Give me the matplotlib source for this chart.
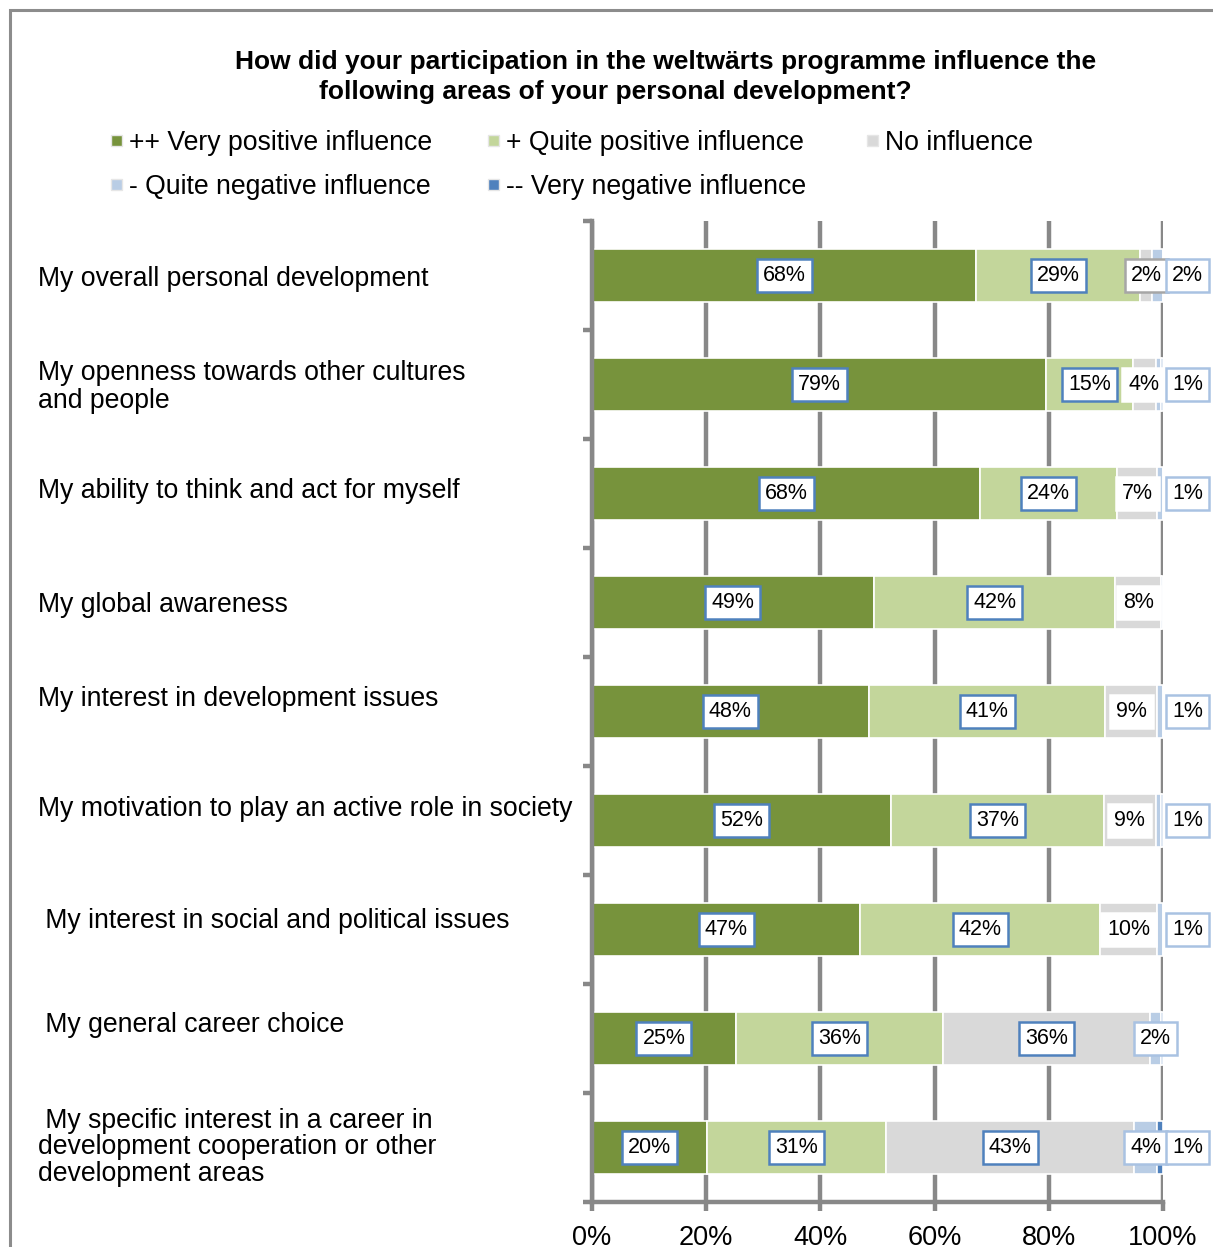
import numpy as np
import matplotlib.pyplot as plt
from matplotlib.patches import Rectangle
from matplotlib.transforms import blended_transform_factory, offset_copy

plt.rcParams['font.family'] = ['Liberation Sans', 'DejaVu Sans']

# survey answers, in percent, one entry per statement (top to bottom)
statements = [
    "My overall personal development",
    "My openness towards other cultures\nand people",
    "My ability to think and act for myself",
    "My global awareness",
    "My interest in development issues",
    "My motivation to play an active role in society",
    " My interest in social and political issues",
    " My general career choice",
    " My specific interest in a career in\ndevelopment cooperation or other\ndevelopment areas",
]
very_pos = [68, 79, 68, 49, 48, 52, 47, 25, 20]
quite_pos = [29, 15, 24, 42, 41, 37, 42, 36, 31]
no_infl = [2, 4, 7, 8, 9, 9, 10, 36, 43]
quite_neg = [2, 1, 1, 0.3, 1, 1, 1, 2, 4]
very_neg = [0, 0.3, 0, 0, 0, 0.3, 0, 0.3, 1]

series_names = ["++ Very positive influence", "+ Quite positive influence",
                "No influence", "- Quite negative influence",
                "-- Very negative influence"]
colors = ["#77933C", "#C3D69B", "#D9D9D9", "#B9CDE5", "#4F81BD"]
xticks = [0, 20, 40, 60, 80, 100]

W, H = 1213, 1247
fig = plt.figure(figsize=(W / 100, H / 100), dpi=100)

def fx(px):
    return px / W

def fy(py):
    return 1 - py / H

# outer frame
fig.patches.append(Rectangle((fx(10), fy(1260)), fx(1220), 1250 / H,
                             transform=fig.transFigure, fill=False,
                             edgecolor="#8C8C8C", lw=2.2))

ax = fig.add_axes([fx(592), fy(1202), fx(1163) - fx(592), (1202 - 221) / H])

data = np.array([very_pos, quite_pos, no_infl, quite_neg, very_neg], dtype=float)
shares = data / data.sum(axis=0)
n = len(statements)
y = np.arange(n)

left = np.zeros(n)
for k in range(5):
    ax.barh(y, shares[k], left=left, height=0.48, color=colors[k],
            edgecolor="white", lw=1.2, zorder=2)
    left += shares[k]

# value labels
blue_edge = "#4F81BD"
pale_edge = "#A9C2E2"
gray_edge = "#A6A6A6"
for i in range(n):
    start = 0.0
    for k in range(5):
        v = data[k, i]
        w = shares[k, i]
        cx = start + w / 2
        start += w
        if v < 1:
            continue
        if k < 2:
            edge = blue_edge
        elif k == 2:
            edge = gray_edge if i == 0 else (blue_edge if i >= 7 else "white")
        else:
            edge = pale_edge
        if (k == 3 and i < 7) or k == 4:
            cx = 1.043
        ax.text(cx, i, f"{v:.0f}%", ha="center", va="center", fontsize=15.5,
                zorder=5, clip_on=False,
                bbox=dict(boxstyle="square,pad=0.28", fc="white", ec=edge, lw=1.8))

ax.set_xlim(0, 1)
ax.set_ylim(n - 0.5, -0.5)
ax.set_xticks(np.array(xticks) / 100)
ax.set_xticklabels([f"{t}%" for t in xticks], fontsize=19.5)
ax.set_yticks(np.arange(n + 1) - 0.5)
ax.set_yticklabels([])
ax.grid(axis="x", color="#888888", lw=3.2, zorder=0)
ax.set_axisbelow(True)
for side in ["top", "right"]:
    ax.spines[side].set_visible(False)
for side in ["left", "bottom"]:
    ax.spines[side].set_color("#888888")
    ax.spines[side].set_linewidth(3.2)
ax.tick_params(axis="both", colors="#888888", width=3.2, length=6.5)
ax.tick_params(axis="x", labelcolor="black", pad=10)

# statement labels on the left
label_tr = blended_transform_factory(fig.transFigure, ax.transData)
label_dy = [-3, -3, 2, -2, 13, 12, 8, 13, 0]
label_ls = [1.0, 1.1, 1.0, 1.0, 1.0, 1.0, 1.0, 1.0, 1.02]
for i, text in enumerate(statements):
    tr = offset_copy(label_tr, fig=fig, y=label_dy[i] * 0.72, units="points")
    ax.text(fx(38), i, text, transform=tr, ha="left", va="center",
            fontsize=19.2, linespacing=label_ls[i], clip_on=False)

# title
fig.text(fx(666), fy(62), "How did your participation in the weltwärts programme influence the",
         ha="center", va="center", fontsize=19, fontweight="bold")
fig.text(fx(615), fy(92), "following areas of your personal development?",
         ha="center", va="center", fontsize=19, fontweight="bold")

# legend
legend_pos = [(111, 143), (488, 143), (867, 143), (111, 187), (488, 187)]
for k, (px, py) in enumerate(legend_pos):
    fig.patches.append(Rectangle((fx(px), fy(py + 3)), 11 / W, 11 / H,
                                 transform=fig.transFigure, facecolor=colors[k],
                                 edgecolor="#E6E6E6", lw=1))
    fig.text(fx(px + 18), fy(py), series_names[k], ha="left", va="center",
             fontsize=19.2)

fig.savefig("out.png", dpi=100)
